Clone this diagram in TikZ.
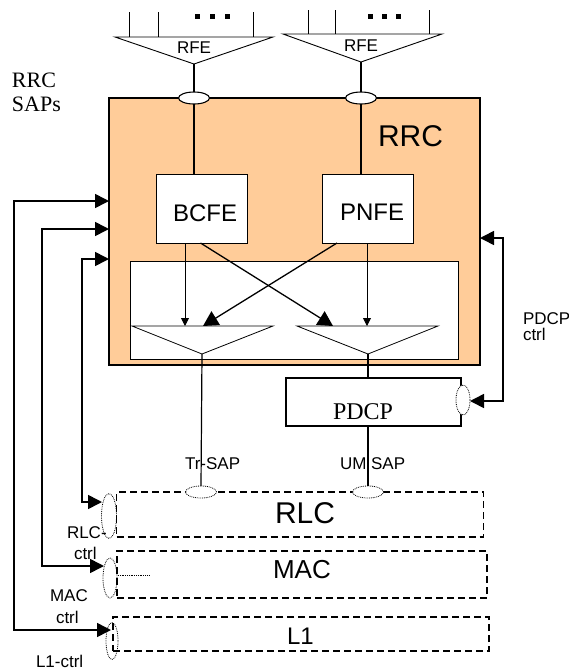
\documentclass[tikz,border=0pt]{standalone}
\usepackage{fontspec}
\setmainfont{Liberation Serif}
\setsansfont{Liberation Sans}
\usetikzlibrary{arrows.meta,shapes.geometric,calc}
\definecolor{peach}{HTML}{FFCC99}
\begin{document}
\begin{tikzpicture}[x=1pt,y=-1pt,
  every node/.style={inner sep=0pt,outer sep=0pt},
  lbl/.style={font=\sffamily\fontsize{17}{17}\selectfont,anchor=base west},
  bigl/.style={font=\sffamily\fontsize{30}{30}\selectfont,anchor=base west},
  fbox/.style={draw,line width=1pt,fill=white},
  layer/.style={draw,line width=1.4pt,dash pattern=on 7pt off 4pt},
  sapsolid/.style={ellipse,draw,fill=white,line width=1.1pt,minimum width=31pt,minimum height=12pt},
  sapdot/.style={ellipse,draw,densely dotted,line width=0.8pt},
  conn/.style={line width=1.2pt},
  ctrl/.style={line width=1.6pt,{Triangle[length=14pt,width=14pt]}-{Triangle[length=14pt,width=14pt]}},
  small/.style={line width=0.9pt,-{Triangle[length=8pt,width=8pt]}},
  cross/.style={line width=1.3pt,-{Triangle[length=15pt,width=16pt]}}
]
\useasboundingbox (0,0) rectangle (568,672);

% RFE funnels
\coordinate (rfeLa) at (194,64);
\coordinate (rfeRa) at (361,62);
\draw[line width=0.9pt] (115,37) -- (273,37) -- (rfeLa) -- cycle;
\draw[line width=0.9pt] (283,34) -- (442,34) -- (rfeRa) -- cycle;
\foreach \x in {129,158,253} \draw[line width=0.9pt] (\x,12) -- (\x,37);
\foreach \x in {308,335,429} \draw[line width=0.9pt] (\x,10) -- (\x,34);
\foreach \x in {197,212,227} \fill (\x-2.5,13.5) rectangle (\x+2.5,18.5);
\foreach \x in {370,384,398} \fill (\x-2.5,13.5) rectangle (\x+2.5,18.5);
\node[font=\sffamily\fontsize{17}{17}\selectfont,anchor=base] (rfeLt) at (194,53) {RFE};
\node[font=\sffamily\fontsize{17}{17}\selectfont,anchor=base] (rfeRt) at (361,51) {RFE};

% labels RRC SAPs
\node[font=\fontsize{22}{22}\selectfont,anchor=base west] (sap1) at (12,87) {RRC};
\node[font=\fontsize{22}{22}\selectfont,anchor=base west] (sap2) at (12,111) {SAPs};

% RRC box
\node[draw,fill=peach,line width=1.2pt,minimum width=371pt,minimum height=267pt] (rrc) at (294.5,231.5) {};
\node[bigl] (rrct) at (378,146) {RRC};

% SAP ellipses on top
\node[sapsolid] (sapL) at (194,98) {};
\node[sapsolid] (sapR) at (361,98) {};
\draw[conn] (rfeLa) -- (sapL.north);
\draw[conn] (rfeRa) -- (sapR.north);

% BCFE / PNFE
\node[fbox,minimum width=91pt,minimum height=69pt] (bcfe) at (201.5,208.5) {};
\node[fbox,minimum width=91pt,minimum height=69pt] (pnfe) at (367.5,208.5) {};
\node[font=\sffamily\fontsize{24}{24}\selectfont,anchor=base west] (bcfet) at (173,221) {BCFE};
\node[font=\sffamily\fontsize{24}{24}\selectfont,anchor=base west] (pnfet) at (340,220) {PNFE};
\draw[conn] (sapL.south) -- (sapL.south |- bcfe.north);
\draw[conn] (sapR.south) -- (sapR.south |- pnfe.north);

% inner white box
\node[fbox,minimum width=328pt,minimum height=98pt] (inner) at (294,310) {};
\coordinate (lfa) at (202,354);
\coordinate (rfa) at (368,354);
\draw[line width=0.8pt] (132,326) -- (273,326) -- (lfa) -- cycle;
\draw[line width=0.8pt] (297,326) -- (438,326) -- (rfa) -- cycle;
\coordinate (lf1) at (185,326);
\coordinate (lf2) at (203,326);
\coordinate (rf1) at (333,326);
\coordinate (rf2) at (367,326);
\draw[small] (bcfe.south -| lf1) -- (lf1);
\draw[small] (pnfe.south -| rf2) -- (rf2);
\draw[cross] ($(bcfe.south)+(-1,0)$) -- (rf1);
\draw[cross] ($(pnfe.south west)+(15,0)$) -- (lf2);

% PDCP
\node[draw,line width=1.3pt,fill=white,minimum width=175pt,minimum height=48pt] (pdcp) at (373.5,402) {};
\node[font=\fontsize{24}{24}\selectfont,anchor=base west] (pdcpt) at (333,419) {PDCP};
\draw[conn] (rfa) -- (rfa |- pdcp.north);
\node[sapdot,fill=white,minimum width=14pt,minimum height=30pt] (pdcpsap) at (463,400) {};

% layers
\node[layer,minimum width=367pt,minimum height=45pt] (rlc) at (300,514.5) {};
\node[layer,minimum width=370pt,minimum height=47pt] (mac) at (302,574.5) {};
\node[layer,minimum width=376pt,minimum height=34pt] (l1) at (301,634) {};
\node[font=\sffamily\fontsize{30}{30}\selectfont,anchor=base west] (rlct) at (275,523) {RLC};
\node[font=\sffamily\fontsize{26}{26}\selectfont,anchor=base west] (mact) at (273,578) {MAC};
\node[font=\sffamily\fontsize{24}{24}\selectfont,anchor=base west] (l1t) at (287,644) {L1};
\draw[densely dotted,line width=0.8pt] (118,575) -- (150,575);

% SAPs on RLC
\node[sapdot,fill=white,minimum width=31pt,minimum height=12pt] (trsap) at (201,492) {};
\node[sapdot,fill=white,minimum width=31pt,minimum height=12pt] (umsap) at (368,492) {};
\draw[conn] (lfa) -- (trsap.north);
\draw[conn] (pdcp.south -| umsap) -- (umsap.north);
\node[lbl] (trt) at (185,469) {Tr-SAP};
\node[lbl] (umt) at (340,469) {UM SAP};

% left control SAPs
\node[sapdot,minimum width=15pt,minimum height=45pt] (rlcsap) at (109,516) {};
\node[sapdot,minimum width=14pt,minimum height=40pt] (macsap) at (110,578) {};
\node[sapdot,minimum width=12pt,minimum height=37pt] (l1sap) at (112,641) {};

% control arrows
\coordinate (k1) at (14,201);
\coordinate (k1b) at (14,630);
\coordinate (e1) at (111,630);
\coordinate (k2) at (42,229);
\coordinate (k2b) at (42,566);
\coordinate (e2) at (104,566);
\coordinate (k3) at (82,259);
\coordinate (k3b) at (82,502);
\coordinate (e3) at (102,502);
\draw[ctrl] (e1) -- (k1b) -- (k1) -- (k1 -| rrc.west);
\draw[ctrl] (e2) -- (k2b) -- (k2) -- (k2 -| rrc.west);
\draw[ctrl] (e3) -- (k3b) -- (k3) -- (k3 -| rrc.west);
\coordinate (p1) at (503,238);
\coordinate (p2) at (503,401);
\draw[ctrl] (p2 -| pdcpsap.east) -- (p2) -- (p1) -- (p1 -| rrc.east);

% control labels
\node[lbl] (rlcc1) at (67,538) {RLC-};
\node[lbl] (rlcc2) at (74,559) {ctrl};
\node[lbl] (macc1) at (50,601) {MAC};
\node[lbl] (macc2) at (56,623) {ctrl};
\node[lbl] (l1c) at (36,667) {L1-ctrl};
\node[lbl] (pdc1) at (523,324) {PDCP};
\node[lbl] (pdc2) at (523,340) {ctrl};
\end{tikzpicture}
\end{document}
